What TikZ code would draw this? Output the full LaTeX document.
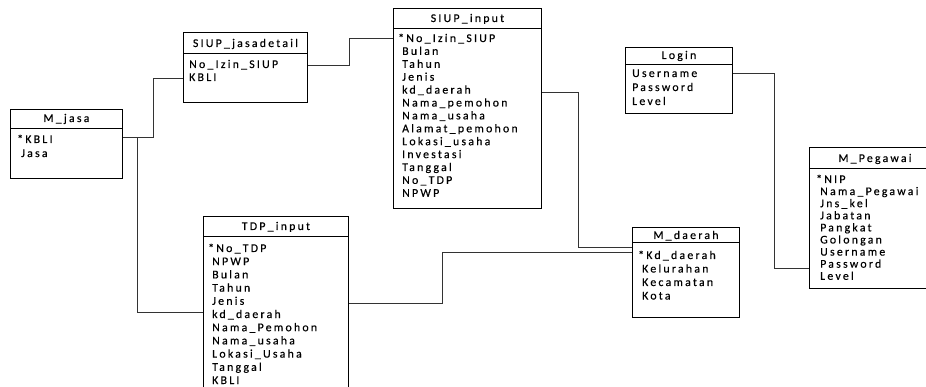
\documentclass[tikz,border=0pt]{standalone}
\usepackage{fontspec}
\setmainfont{Carlito}[LetterSpace=19,FakeBold=0.4]
\usetikzlibrary{calc}
\tikzset{
  tbl/.style={draw=black, line width=0.9pt, rectangle, inner sep=0pt, anchor=north west},
  sepline/.style={draw=black, line width=0.9pt},
  ttl/.style={inner sep=0pt, anchor=base, font=\fontsize{11.8}{13}\selectfont},
  rowtxt/.style={inner sep=0pt, anchor=base west, font=\fontsize{11.8}{13}\selectfont},
  link/.style={draw=black!80, line width=0.8pt},
}
\newcommand{\tablerows}[5]{%
  \foreach \t [count=\i from 0] in {#5}
    \node[rowtxt] at ($(#1.north west)+(#2,#3+\i*#4)$) {\t};}
\newcommand{\tablehead}[4]{% name, sep offset, title baseline offset, title
  \draw[sepline] ($(#1.north west)+(0,#2)$) -- ($(#1.north east)+(0,#2)$);
  \node[ttl] at ($(#1.north)+(0,#3)$) {#4};}
\begin{document}
\begin{tikzpicture}[x=1pt,y=-1pt]
\useasboundingbox (0,0) rectangle (926,387);
\clip (0,0) rectangle (926,387);

% M_jasa
\node[tbl, minimum width=112pt, minimum height=69pt] (mjasa) at (10,109) {};
\tablehead{mjasa}{19}{13}{M\_jasa}
\tablerows{mjasa}{7}{34}{14}{*KBLI,\hspace{4pt}Jasa}

% SIUP_jasadetail
\node[tbl, minimum width=124pt, minimum height=70pt] (sjd) at (183,32) {};
\tablehead{sjd}{21}{15}{SIUP\_jasadetail}
\tablerows{sjd}{6}{36}{13}{No\_Izin\_SIUP,KBLI}

% SIUP_input
\node[tbl, minimum width=148pt, minimum height=200pt] (siup) at (393,8) {};
\tablehead{siup}{20}{14}{SIUP\_input}
\tablerows{siup}{5}{34}{12.9}{*No\_Izin\_SIUP,\hspace{4pt}Bulan,\hspace{4pt}Tahun,\hspace{4pt}Jenis,\hspace{4pt}kd\_daerah,\hspace{4pt}Nama\_pemohon,\hspace{4pt}Nama\_usaha,\hspace{4pt}Alamat\_pemohon,\hspace{4pt}Lokasi\_usaha,\hspace{4pt}Investasi,\hspace{4pt}Tanggal,\hspace{4pt}No\_TDP,\hspace{4pt}NPWP}

% Login
\node[tbl, minimum width=107pt, minimum height=66pt] (login) at (625,47) {};
\tablehead{login}{17}{12}{Login}
\tablerows{login}{7}{30}{14}{Username,Password,Level}

% M_Pegawai
\node[tbl, minimum width=131pt, minimum height=141pt] (mpeg) at (809,147) {};
\tablehead{mpeg}{21}{15}{M\_Pegawai}
\tablerows{mpeg}{7}{36}{12.1}{*NIP,\hspace{4pt}Nama\_Pegawai,\hspace{4pt}Jns\_kel,\hspace{4pt}Jabatan,\hspace{4pt}Pangkat,\hspace{4pt}Golongan,\hspace{4pt}Username,\hspace{4pt}Password,\hspace{4pt}Level}

% TDP_input
\node[tbl, minimum width=145pt, minimum height=180pt] (tdp) at (203,216) {};
\tablehead{tdp}{20}{14}{TDP\_input}
\tablerows{tdp}{5}{36}{13.2}{*No\_TDP,\hspace{4pt}NPWP,\hspace{4pt}Bulan,\hspace{4pt}Tahun,\hspace{4pt}Jenis,\hspace{4pt}kd\_daerah,\hspace{4pt}Nama\_Pemohon,\hspace{4pt}Nama\_usaha,\hspace{4pt}Lokasi\_Usaha,\hspace{4pt}Tanggal,\hspace{4pt}KBLI}

% M_daerah
\node[tbl, minimum width=107pt, minimum height=90pt] (mdaerah) at (632,227) {};
\tablehead{mdaerah}{15}{12}{M\_daerah}
\tablerows{mdaerah}{6}{32}{13.5}{*Kd\_daerah,\hspace{4pt}Kelurahan,\hspace{4pt}Kecamatan,\hspace{4pt}Kota}

% connectors
\draw[link] ($(mjasa.north east)+(0,28)$) -- ++(30,0) |- ($(sjd.north west)+(0,46)$);
\draw[link] ($(mjasa.north east)+(0,28)$) -- ++(14,0) |- ($(tdp.north west)+(0,96)$);
\draw[link] ($(sjd.north east)+(0,33)$) -- ++(41,0) |- ($(siup.north west)+(0,30)$);
\draw[link] ($(siup.north east)+(0,84)$) -- ++(36,0) |- ($(mdaerah.north west)+(0,20)$);
\draw[link] ($(tdp.north east)+(0,87)$) -- ++(93,0) |- ($(mdaerah.north west)+(0,25)$);
\draw[link] ($(login.north east)+(0,26)$) -- ++(41,0) |- ($(mpeg.north west)+(0,121)$);
\end{tikzpicture}
\end{document}
